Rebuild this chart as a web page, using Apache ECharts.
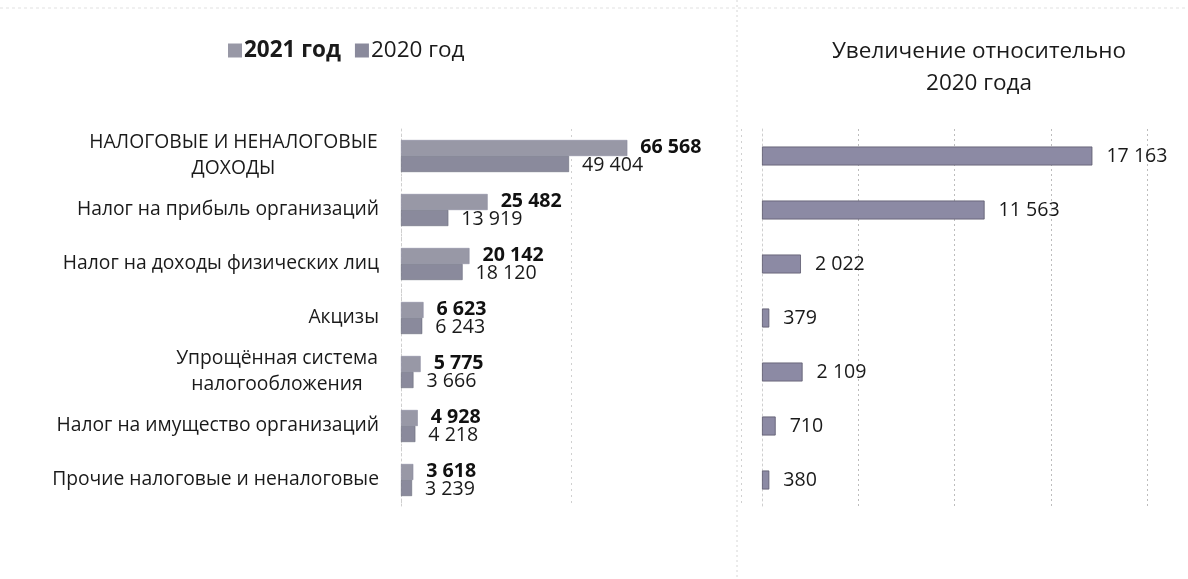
<!DOCTYPE html>
<html>
<head>
<meta charset="utf-8">
<script src="https://cdn.jsdelivr.net/npm/echarts@6/dist/echarts.min.js"></script>
<style>
html,body{margin:0;padding:0;background:#fff;}
#c{width:1188px;height:579px;}
</style>
</head>
<body>
<div id="c"></div>
<script>
var categories = [
  'НАЛОГОВЫЕ И НЕНАЛОГОВЫЕ\nДОХОДЫ',
  'Налог на прибыль организаций',
  'Налог на доходы физических лиц',
  'Акцизы',
  'Упрощённая система\nналогообложения',
  'Налог на имущество организаций',
  'Прочие налоговые и неналоговые'
];
var values2021 = [66568, 25482, 20142, 6623, 5775, 4928, 3618];
var values2020 = [49404, 13919, 18120, 6243, 3666, 4218, 3239];
var increase = [17163, 11563, 2022, 379, 2109, 710, 380];
var seriesNames = ['2021 год', '2020 год'];
var rightTitle = 'Увеличение относительно\n2020 года';

var FONT = '"Open Sans", "Noto Sans", sans-serif';
var FS = 19.3;
var VFS = 19.6;

function fmt(v) {
  return String(v).replace(/\B(?=(\d{3})+(?!\d))/g, ' ');
}

// measure text widths to center multi-line category labels like the original
var cv = document.createElement('canvas').getContext('2d');
cv.font = FS + 'px "Open Sans"';
var rich = {};
var labelMap = {};
categories.forEach(function (c, i) {
  var lines = c.split('\n');
  if (lines.length > 1) {
    var w = 0;
    lines.forEach(function (l) { w = Math.max(w, cv.measureText(l).width); });
    rich['r' + i] = { width: Math.ceil(w) + 2, align: 'center', fontSize: FS, fontFamily: FONT, color: '#1a1a1a', lineHeight: 26 };
    labelMap[c] = lines.map(function (l) { return '{r' + i + '|' + l + '}'; }).join('\n');
  } else {
    labelMap[c] = c;
  }
});

var chart = echarts.init(document.getElementById('c'));
var option = {
  backgroundColor: '#ffffff',
  animation: false,
  textStyle: { fontFamily: FONT },
  title: {
    text: rightTitle,
    left: 974,
    top: 31,
    textAlign: 'center',
    textStyle: { fontFamily: FONT, fontSize: 22.5, fontWeight: 'normal', color: '#1a1a1a', lineHeight: 32 }
  },
  legend: {
    left: 223,
    top: 34,
    icon: 'rect',
    itemWidth: 14,
    itemHeight: 14,
    itemGap: 14,
    itemStyle: { borderWidth: 0 },
    textStyle: { fontFamily: FONT, fontSize: 22.5, color: '#1a1a1a', padding: [0, 0, 0, -3] },
    data: [
      { name: seriesNames[0], textStyle: { fontWeight: 'bold' } },
      { name: seriesNames[1] }
    ]
  },
  graphic: [
    { type: 'line', shape: { x1: 737, y1: 0, x2: 737, y2: 579 }, style: { stroke: '#d6d6d6', lineWidth: 1, lineDash: [2, 3] }, silent: true },
    { type: 'line', shape: { x1: 0, y1: 8, x2: 1188, y2: 8 }, style: { stroke: '#e2e2e2', lineWidth: 1, lineDash: [3, 3] }, silent: true }
  ],
  grid: [
    { left: 401, top: 129, width: 340, height: 378, containLabel: false },
    { left: 762, top: 129, width: 385, height: 378, containLabel: false }
  ],
  xAxis: [
    {
      gridIndex: 0, type: 'value', min: 0, max: 100000, interval: 50000,
      axisLabel: { show: false }, axisLine: { show: false }, axisTick: { show: false },
      splitLine: { show: true, lineStyle: { color: '#d0d0d0', type: [2, 4], width: 1 } }
    },
    {
      gridIndex: 1, type: 'value', min: 0, max: 20000, interval: 5000,
      axisLabel: { show: false }, axisLine: { show: false }, axisTick: { show: false },
      splitLine: { show: true, lineStyle: { color: '#bdbdbd', type: [2, 3], width: 1 } }
    }
  ],
  yAxis: [
    {
      gridIndex: 0, type: 'category', data: categories, inverse: true,
      axisLine: { show: true, lineStyle: { color: '#cfcfcf', type: [2, 3] } },
      axisTick: { show: false },
      axisLabel: {
        margin: 22, fontSize: FS, fontFamily: FONT, color: '#1a1a1a', lineHeight: 26,
        formatter: function (v) { return labelMap[v]; },
        rich: rich
      }
    },
    {
      gridIndex: 1, type: 'category', data: categories, inverse: true,
      axisLine: { show: true, lineStyle: { color: '#cfcfcf', type: [2, 3] } },
      axisTick: { show: false },
      axisLabel: { show: false }
    }
  ],
  series: [
    {
      name: seriesNames[0], type: 'bar', xAxisIndex: 0, yAxisIndex: 0,
      data: values2021, barWidth: 16, barGap: '0%',
      itemStyle: { color: '#9898a6', borderColor: '#85859a', borderWidth: 0.5 },
      label: {
        show: true, position: 'right', distance: 13, offset: [0, -1],
        fontFamily: FONT, fontSize: VFS, fontWeight: 'bold', color: '#111',
        formatter: function (p) { return fmt(p.value); }
      }
    },
    {
      name: seriesNames[1], type: 'bar', xAxisIndex: 0, yAxisIndex: 0,
      data: values2020, barWidth: 16, barGap: '0%',
      itemStyle: { color: '#8a8a9c', borderColor: '#5f6070', borderWidth: 0.5 },
      label: {
        show: true, position: 'right', distance: 13, offset: [0, 1],
        fontFamily: FONT, fontSize: VFS, color: '#1a1a1a',
        formatter: function (p) { return fmt(p.value); }
      }
    },
    {
      name: 'increase', type: 'bar', xAxisIndex: 1, yAxisIndex: 1,
      data: increase, barWidth: 19,
      itemStyle: { color: '#8c8aa4', borderColor: '#5a586c', borderWidth: 0.8 },
      label: {
        show: true, position: 'right', distance: 14,
        fontFamily: FONT, fontSize: VFS, color: '#1a1a1a',
        formatter: function (p) { return fmt(p.value); }
      }
    }
  ]
};
chart.setOption(option);
</script>
</body>
</html>
